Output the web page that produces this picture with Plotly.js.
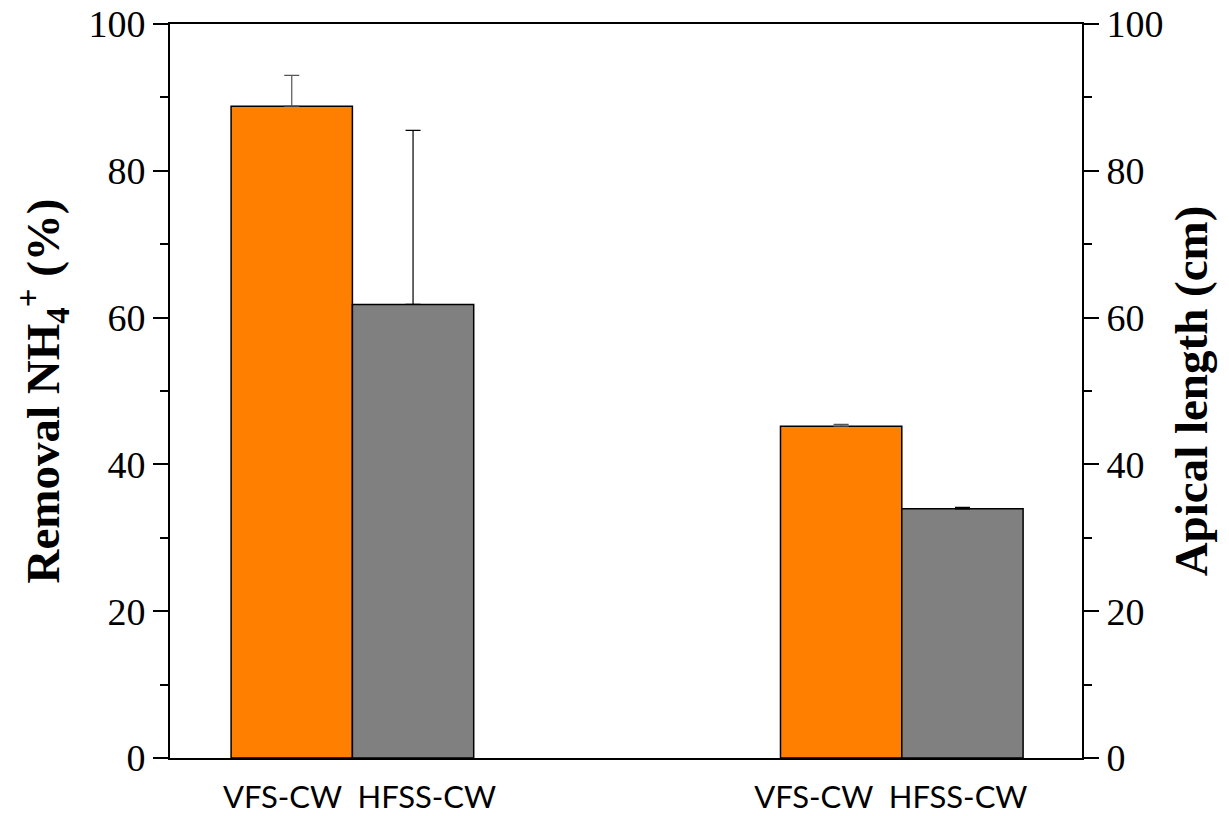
<!DOCTYPE html>
<html>
<head>
<meta charset="utf-8">
<script src="https://cdn.plot.ly/plotly-3.0.1.min.js"></script>
<style>html,body{margin:0;padding:0;background:#fff;}#chart{width:1229px;height:816px;}</style>
</head>
<body>
<div id="chart"></div>
<script>
// ---- data ----
const systems = ["VFS-CW", "HFSS-CW"];
const groups = ["Removal NH4+ (%)", "Apical length (cm)"];
const removalValues = [88.8, 61.8];      // % removal NH4+
const removalErrors = [4.2, 23.7];
const apicalValues = [45.2, 33.95];      // cm
const apicalErrors = [0.25, 0.2];

// ---- layout / styling ----
const colors = ["#FF8000", "#808080"];
const errColors = ["#555555", "#000000"];
const barW = 0.2208;
const groupPos = [0, 1];
const labelShift = [0.013, -0.02];
const serif = "Liberation Serif, Times New Roman, serif";

const traces = [];
[[removalValues, removalErrors, "y"], [apicalValues, apicalErrors, "y2"]].forEach(([vals, errs, ax], g) => {
  systems.forEach((s, i) => {
    traces.push({
      type: "bar",
      name: s,
      x: [groupPos[g]],
      y: [vals[i]],
      yaxis: ax,
      width: barW,
      offset: i === 0 ? -barW : 0,
      marker: {color: colors[i], line: {color: "#000", width: 1.5}},
      error_y: {type: "data", symmetric: false, array: [errs[i]], arrayminus: [0],
                color: errColors[i], thickness: 1.2, width: 7.5},
      showlegend: false,
      hoverinfo: "y"
    });
  });
});

const yCommon = {
  range: [0, 100], dtick: 20, tick0: 0,
  ticks: "outside", ticklen: 15, tickwidth: 2, tickcolor: "#000",
  minor: {dtick: 10, ticks: "outside", ticklen: 8, tickwidth: 2, tickcolor: "#000"},
  showline: true, linewidth: 2, linecolor: "#000",
  showgrid: false, zeroline: false,
  tickfont: {family: serif, size: 38, color: "#000"},
  fixedrange: true
};

const titleFont = {family: serif, size: 47, color: "#000", weight: "bold"};

const layout = {
  width: 1229, height: 816,
  margin: {l: 170, r: 147, t: 24, b: 58},
  paper_bgcolor: "#fff", plot_bgcolor: "#fff",
  barmode: "overlay",
  xaxis: {
    range: [-0.332, 1.328],
    tickvals: groupPos.map((p, g) => p + labelShift[g]),
    ticktext: groupPos.map(() => systems.join("\u00a0\u00a0")),
    ticks: "", showline: true, linewidth: 2, linecolor: "#000", mirror: true,
    showgrid: false, zeroline: false,
    tickfont: {family: "Lato, Open Sans, sans-serif", size: 31, color: "#000"},
    ticklabelstandoff: 11
  },
  yaxis: Object.assign({}, yCommon, {
    title: {text: "Removal NH<sub>4</sub><sup>+</sup> (%)", font: titleFont, standoff: 14}
  }),
  yaxis2: Object.assign({}, yCommon, {
    overlaying: "y", side: "right",
    title: {text: "Apical length (cm)", font: titleFont, standoff: 12}
  })
};

Plotly.newPlot("chart", traces, layout, {displayModeBar: false, staticPlot: true});
</script>
</body>
</html>
